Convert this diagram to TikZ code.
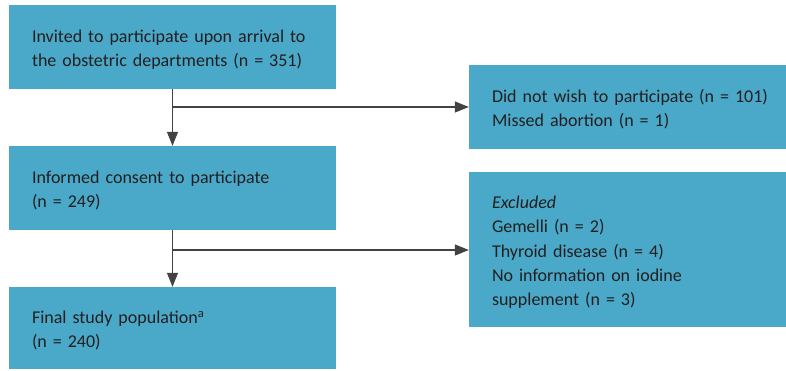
\documentclass[tikz,border=0pt]{standalone}
\usepackage{fontspec}
\setmainfont{Carlito}
\usepackage{xcolor}
\usetikzlibrary{arrows.meta,positioning}
\definecolor{boxblue}{RGB}{74,168,200}
\definecolor{ink}{RGB}{35,31,32}
% struts that keep the text a little below the box centre
\newcommand{\topgap}{\rule{0pt}{23pt}}
\newcommand{\botgap}{\rule[-8pt]{0pt}{0pt}}
\begin{document}
\begin{tikzpicture}[
    x=1pt,y=-1pt,
    p/.style={fill=boxblue, inner xsep=23pt, inner ysep=0pt, align=left,
              text=ink, font=\fontsize{18}{24.3}\selectfont, minimum height=84pt},
    pl/.style={p, text width=281pt},
    pr/.style={p, text width=271pt},
    a/.style={-{Triangle[length=14pt,width=11pt]}, line width=1.1pt, draw=ink!85}
]
\useasboundingbox (0,0) rectangle (786,370);
% Left column: main flow
\node[pl] (invited) at (172.5,47) {\topgap Invited to participate upon arrival to\\the obstetric departments (n = 351)\botgap};
\node[pl] (consent) at (172.5,188) {\topgap Informed consent to participate\\(n = 249)\botgap};
\node[pl, minimum height=82pt] (final) at (172.5,328) {\topgap Final study population\textsuperscript{a}\\(n = 240)\botgap};

% Right column: losses
\node[pr] (declined) at (627.5,107) {\topgap\mbox{Did not wish to participate (n = 101)}\\Missed abortion (n = 1)\botgap};
\node[pr, minimum height=155pt] (excluded) at (627.5,249.5) {\topgap\textit{Excluded}\\Gemelli (n = 2)\\Thyroid disease (n = 4)\\No information on iodine\\supplement (n = 3)\botgap};

\coordinate (split1) at (172.5,107);
\coordinate (split2) at (172.5,250);

\draw[a] (invited.south) -- (consent.north);
\draw[a] (consent.south) -- (final.north);
\draw[a] (split1) -- (split1 -| declined.west);
\draw[a] (split2) -- (split2 -| excluded.west);
\end{tikzpicture}
\end{document}
